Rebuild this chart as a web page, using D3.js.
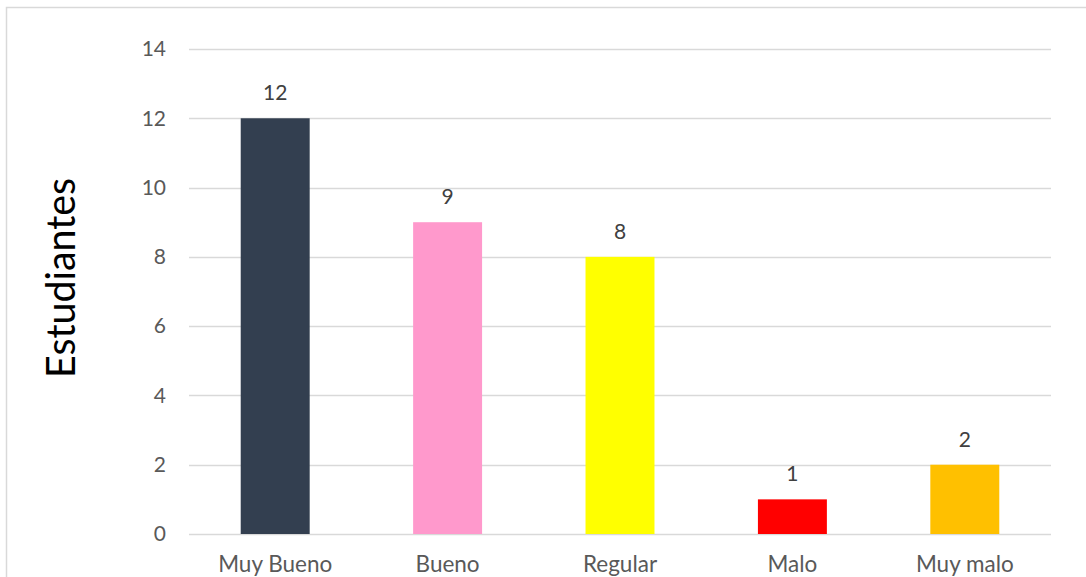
<!DOCTYPE html>
<html><head><meta charset="utf-8">
<script src="https://cdn.jsdelivr.net/npm/d3@7"></script>
<style>body{margin:0;background:#fff;}svg{display:block;}</style>
</head><body>
<svg id="c" width="1086" height="577"></svg>
<script>
const categories = ["Muy Bueno","Bueno","Regular","Malo","Muy malo"];
const values = [12,9,8,1,2];
const colors = ["#333F50","#FF99CC","#FFFF00","#FF0000","#FFC000"];
const yTicks = [0,2,4,6,8,10,12,14];
const yTitle = "Estudiantes";

const svg = d3.select("#c");
const font = "Lato, 'Open Sans', 'Noto Sans', sans-serif";
svg.append("rect").attr("x",6.5).attr("y",7.5).attr("width",1100).attr("height",600)
  .attr("fill","#fff").attr("stroke","#d9d9d9").attr("stroke-width",1.5);

const x = d3.scaleBand().domain(categories).range([189,1051]).paddingInner(0.6).paddingOuter(0.3);
const y = d3.scaleLinear().domain([0,14]).range([534,49]);

const grid = svg.append("g");
grid.selectAll("line").data(yTicks).join("line")
  .attr("x1",189).attr("x2",1051).attr("y1",d=>Math.round(y(d))+0.5).attr("y2",d=>Math.round(y(d))+0.5)
  .attr("stroke","#d9d9d9").attr("stroke-width",1.3);

const yAxis = svg.append("g").attr("transform","translate(189,0)")
  .call(d3.axisLeft(y).tickValues(yTicks).tickSize(0).tickPadding(23));
yAxis.select(".domain").remove();
yAxis.selectAll("text").attr("font-family",font).attr("font-size",21).attr("fill","#595959");

svg.append("g").selectAll("rect").data(values).join("rect")
  .attr("x",(d,i)=>x(categories[i])).attr("width",x.bandwidth())
  .attr("y",d=>y(d)).attr("height",d=>y(0)-y(d))
  .attr("fill",(d,i)=>colors[i]);

svg.append("g").selectAll("text").data(values).join("text")
  .attr("x",(d,i)=>x(categories[i])+x.bandwidth()/2).attr("y",d=>y(d)-18)
  .attr("text-anchor","middle").attr("font-family",font).attr("font-size",21).attr("fill","#404040")
  .text(d=>d);

const xAxis = svg.append("g").attr("transform","translate(0,534)")
  .call(d3.axisBottom(x).tickSize(0));
xAxis.select(".domain").remove();
xAxis.selectAll("text").attr("y",38).attr("dy",null)
  .attr("font-family",font).attr("font-size",22.5).attr("fill","#595959");

svg.append("text").attr("transform","translate(75,278) rotate(-90)")
  .attr("text-anchor","middle").attr("font-family",font).attr("font-size",40).attr("fill","#000")
  .attr("textLength",200).attr("lengthAdjust","spacingAndGlyphs")
  .text(yTitle);
</script>
</body></html>
